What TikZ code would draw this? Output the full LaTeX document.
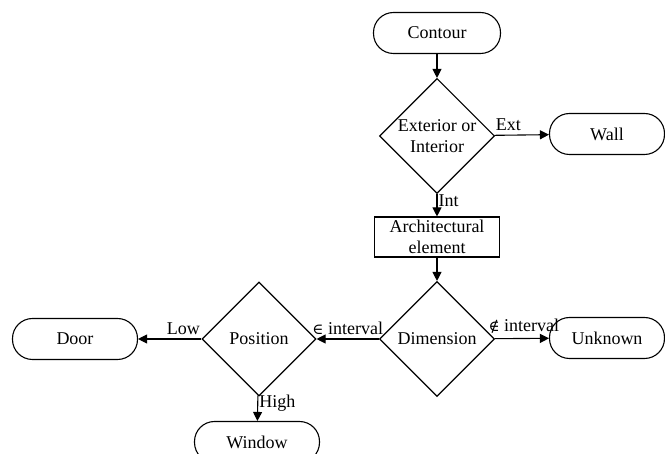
\documentclass[tikz,border=0pt]{standalone}
\usepackage{fontspec}
\setmainfont{Liberation Serif}
\newfontfamily\symbfont{DejaVu Serif}
\usetikzlibrary{arrows.meta, shapes, positioning}

\begin{document}
\begin{tikzpicture}[
    % GLOBAL CFG
    x=1pt, y=-1pt,
    font=\fontsize{18}{21}\selectfont,
    >={Triangle[length=9pt,width=9pt]},
    % Styles
    terminal/.style={% For start and end boxes
        rectangle,
        rounded corners=20pt,
        draw,
        line width=1.1pt,
        minimum height=41pt,
        },
    process/.style={% For the plain box
        rectangle,
        draw,
        line width=1.1pt,
        minimum width=125pt,
        minimum height=40pt,
        align=center,
        inner sep=1pt,
        },
    decision/.style={% For the diamonds
        diamond,
        draw,
        line width=1.1pt,
        aspect=1,
        inner sep=0pt,
        minimum width=115pt,
        minimum height=115pt,
        align=center,
        },
    mylabel/.style={% labels on the arrows
        inner xsep=1pt,
        inner ysep=4pt,
        },
    ArrowC1/.style={% Arrows
        ->,
        line width=1.1pt,
        },
    ]

\useasboundingbox (0,0) rectangle (665,454);

%The boxes
    \node [terminal, minimum width=127pt] (contour) at (437,33) {Contour};
    \node [decision] (extint) at (437,136) {Exterior or\\Interior};
    \node [terminal, minimum width=115pt] (wall) at (607,134) {Wall};
    \node [process] (arch) at (437,237) {Architectural\\element};
    \node [decision] (dim) at (437,339) {Dimension};
    \node [terminal, minimum width=115pt] (unknown) at (607,338) {Unknown};
    \node [decision, minimum width=114pt, minimum height=114pt] (pos) at (259,339) {Position};
    \node [terminal, minimum width=125pt] (door) at (75,339) {Door};
    \node [terminal, minimum width=125pt] (window) at (257,442) {Window};

% Connecting all
    \draw [ArrowC1] (contour) -- (extint);
    \draw [ArrowC1] (extint) -- node[mylabel, pos=0, above right] {Ext} (wall);
    \draw [ArrowC1] (extint) -- node[mylabel, pos=0.3, right] {Int} (arch);
    \draw [ArrowC1] (arch) -- (dim);
    \draw [ArrowC1] (dim) -- node[mylabel, midway, above, xshift=2pt] {{\symbfont\fontsize{15}{18}\selectfont ∉} interval} (unknown);
    \draw [ArrowC1] (dim) -- node[mylabel, midway, above] {{\symbfont\fontsize{15}{18}\selectfont ∈} interval} (pos);
    \draw [ArrowC1] (pos) -- node[mylabel, pos=0, above left] {Low} (door);
    \draw [ArrowC1] (pos) -- node[mylabel, pos=0.3, right] {High} (window);
\end{tikzpicture}
\end{document}
